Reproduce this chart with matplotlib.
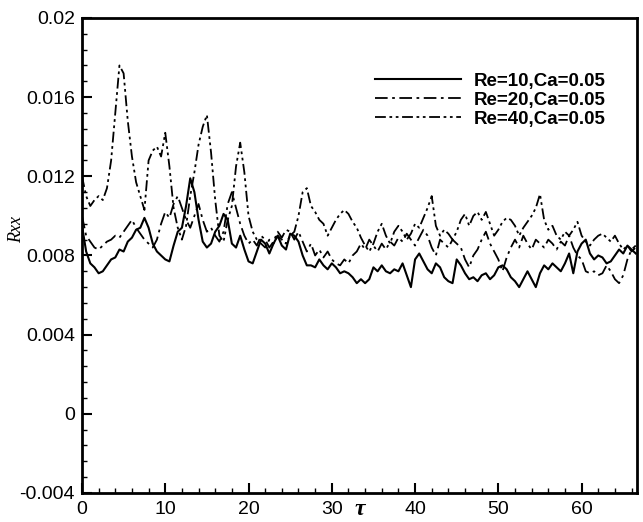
import numpy as np
import matplotlib
matplotlib.use('Agg')
import matplotlib.pyplot as plt
from matplotlib.ticker import MultipleLocator

# tau sampled every 0.5
tau = np.arange(0, 67, 0.5)

rxx_re10 = [
    0.0095, 0.0082, 0.0076, 0.0074, 0.0071, 0.0072, 0.0075, 0.0078, 0.0079, 0.0083,
    0.0082, 0.0087, 0.0089, 0.0093, 0.0094, 0.0099, 0.0094, 0.0086, 0.0082, 0.0080,
    0.0078, 0.0077, 0.0085, 0.0092, 0.0094, 0.0105, 0.0119, 0.0112, 0.0098, 0.0087,
    0.0084, 0.0086, 0.0092, 0.0095, 0.0101, 0.0098, 0.0086, 0.0084, 0.0090, 0.0083,
    0.0077, 0.0076, 0.0082, 0.0088, 0.0086, 0.0081, 0.0086, 0.0090, 0.0085, 0.0083,
    0.0091, 0.0090, 0.0087, 0.0080, 0.0075, 0.0075, 0.0074, 0.0078, 0.0075, 0.0073,
    0.0076, 0.0074, 0.0071, 0.0072, 0.0071, 0.0069, 0.0066, 0.0068, 0.0066, 0.0068,
    0.0074, 0.0072, 0.0075, 0.0072, 0.0071, 0.0073, 0.0072, 0.0076, 0.0070, 0.0064,
    0.0078, 0.0081, 0.0077, 0.0073, 0.0071, 0.0076, 0.0074, 0.0069, 0.0067, 0.0066,
    0.0078, 0.0075, 0.0071, 0.0068, 0.0069, 0.0067, 0.0070, 0.0071, 0.0068, 0.0070,
    0.0074, 0.0075, 0.0073, 0.0069, 0.0067, 0.0064, 0.0068, 0.0072, 0.0068, 0.0064,
    0.0071, 0.0075, 0.0073, 0.0076, 0.0074, 0.0072, 0.0076, 0.0081, 0.0071, 0.0082,
    0.0086, 0.0088, 0.0081, 0.0078, 0.0080, 0.0079, 0.0076, 0.0077, 0.0080, 0.0083,
    0.0081, 0.0085, 0.0083, 0.0081,
]

rxx_re20 = [
    0.0100, 0.0090, 0.0087, 0.0084, 0.0083, 0.0085, 0.0087, 0.0088, 0.0090, 0.0089,
    0.0092, 0.0095, 0.0098, 0.0094, 0.0091, 0.0088, 0.0086, 0.0084, 0.0088, 0.0096,
    0.0102, 0.0099, 0.0106, 0.0110, 0.0104, 0.0098, 0.0094, 0.0100, 0.0106, 0.0098,
    0.0092, 0.0094, 0.0090, 0.0087, 0.0092, 0.0106, 0.0112, 0.0104, 0.0096, 0.0090,
    0.0086, 0.0088, 0.0085, 0.0090, 0.0088, 0.0084, 0.0087, 0.0092, 0.0089, 0.0093,
    0.0092, 0.0088, 0.0092, 0.0087, 0.0082, 0.0086, 0.0080, 0.0083, 0.0079, 0.0082,
    0.0078, 0.0076, 0.0075, 0.0078, 0.0076, 0.0080, 0.0082, 0.0086, 0.0083, 0.0088,
    0.0085, 0.0082, 0.0086, 0.0083, 0.0087, 0.0085, 0.0089, 0.0087, 0.0091, 0.0088,
    0.0085, 0.0089, 0.0093, 0.0090, 0.0084, 0.0080, 0.0088, 0.0086, 0.0084, 0.0088,
    0.0086, 0.0084, 0.0078, 0.0074, 0.0080, 0.0083, 0.0088, 0.0092, 0.0086, 0.0082,
    0.0078, 0.0072, 0.0079, 0.0084, 0.0088, 0.0084, 0.0090, 0.0086, 0.0083, 0.0088,
    0.0086, 0.0084, 0.0088, 0.0086, 0.0083, 0.0087, 0.0085, 0.0090, 0.0084, 0.0080,
    0.0078, 0.0072, 0.0071, 0.0072, 0.0070, 0.0071, 0.0075, 0.0072, 0.0068, 0.0066,
    0.0070, 0.0078, 0.0083, 0.0085,
]

rxx_re40 = [
    0.0120, 0.0110, 0.0105, 0.0108, 0.0110, 0.0108, 0.0114, 0.0128, 0.0152, 0.0176,
    0.0172, 0.0148, 0.0130, 0.0117, 0.0110, 0.0103, 0.0128, 0.0133, 0.0135, 0.0130,
    0.0142, 0.0125, 0.0104, 0.0094, 0.0088, 0.0095, 0.0110, 0.0122, 0.0136, 0.0145,
    0.0151, 0.0132, 0.0108, 0.0090, 0.0087, 0.0098, 0.0105, 0.0125, 0.0137, 0.0122,
    0.0100, 0.0092, 0.0088, 0.0086, 0.0084, 0.0088, 0.0086, 0.0090, 0.0088, 0.0086,
    0.0090, 0.0092, 0.0100, 0.0112, 0.0114, 0.0105, 0.0102, 0.0098, 0.0096, 0.0090,
    0.0094, 0.0098, 0.0101, 0.0103, 0.0101, 0.0097, 0.0094, 0.0089, 0.0085, 0.0082,
    0.0086, 0.0092, 0.0096, 0.0090, 0.0086, 0.0092, 0.0095, 0.0092, 0.0088, 0.0091,
    0.0096, 0.0094, 0.0099, 0.0104, 0.0110, 0.0095, 0.0090, 0.0093, 0.0091, 0.0088,
    0.0092, 0.0098, 0.0101, 0.0095, 0.0100, 0.0102, 0.0098, 0.0102, 0.0096, 0.0090,
    0.0093, 0.0097, 0.0099, 0.0098, 0.0095, 0.0090, 0.0094, 0.0097, 0.0100, 0.0104,
    0.0111, 0.0098, 0.0093, 0.0095, 0.0090, 0.0088, 0.0092, 0.0090, 0.0093, 0.0097,
    0.0090, 0.0087, 0.0085, 0.0088, 0.0090, 0.0091, 0.0089, 0.0087, 0.0090, 0.0086,
    0.0083, 0.0085, 0.0082, 0.0084,
]

labels = ["Re=10,Ca=0.05", "Re=20,Ca=0.05", "Re=40,Ca=0.05"]
yticks = [-0.004, 0, 0.004, 0.008, 0.012, 0.016, 0.02]
ytick_labels = ["-0.004", "0", "0.004", "0.008", "0.012", "0.016", "0.02"]
xticks = [0, 10, 20, 30, 40, 50, 60]

plt.rcParams['font.family'] = ['Liberation Sans', 'DejaVu Sans']
plt.rcParams['axes.unicode_minus'] = False

fig = plt.figure(figsize=(6.43, 5.22), dpi=100)
ax = fig.add_axes([0.1275, 0.0556, 0.8625, 0.91])

styles = [
    dict(linestyle='-', lw=1.5),
    dict(linestyle=(0, (7, 2.5, 1.5, 2.5)), lw=1.3),
    dict(linestyle=(0, (6, 2, 1.5, 2, 1.5, 2)), lw=1.3),
]
for series, lab, st in zip([rxx_re10, rxx_re20, rxx_re40], labels, styles):
    ax.plot(tau, series, color='black', label=lab, **st)

ax.set_xlim(0, 66.6)
ax.set_ylim(-0.004, 0.02)
ax.set_xticks(xticks)
ax.set_yticks(yticks)
ax.set_yticklabels(ytick_labels)
ax.xaxis.set_minor_locator(MultipleLocator(2))
ax.yaxis.set_minor_locator(MultipleLocator(0.0008))

ax.tick_params(which='both', direction='in', top=False, right=False,
               labelsize=14, width=1.5)
ax.tick_params(axis='y', which='major', length=7, pad=5)
ax.tick_params(axis='x', which='major', length=7, pad=6)
ax.tick_params(which='minor', length=3.5, width=1.0)
for sp in ax.spines.values():
    sp.set_linewidth(2.0)

ax.set_ylabel("Rxx", family='Liberation Serif', style='italic', fontsize=13)
ax.yaxis.set_label_coords(-0.103, 0.555)
ax.set_xlabel("τ", family='Liberation Serif', style='italic',
              fontweight='bold', fontsize=17, va='center')
ax.xaxis.set_label_coords(0.5, -0.034)

ax.legend(loc='upper right', bbox_to_anchor=(0.945, 0.885), frameon=False,
          borderpad=0, borderaxespad=0, handlelength=4.6, handletextpad=0.7,
          labelspacing=0.1, prop=dict(weight='bold', size=13.5))

fig.savefig("out.png", dpi=100)
